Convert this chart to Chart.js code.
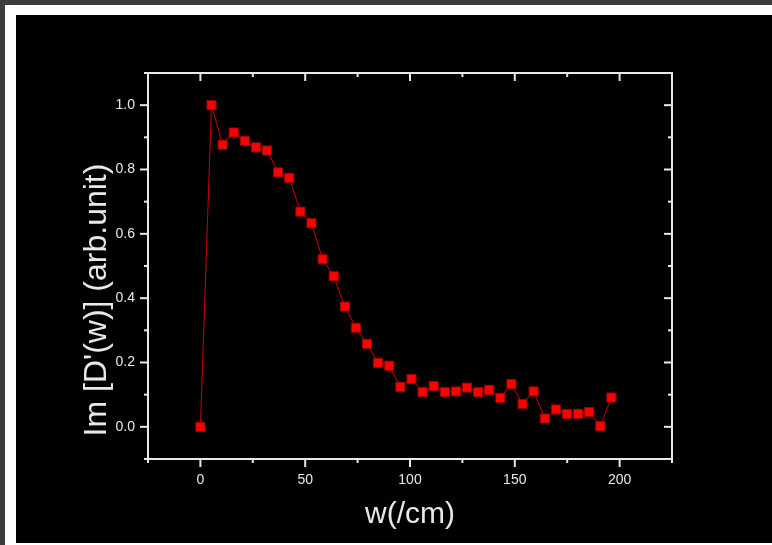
<!DOCTYPE html>
<html>
<head>
<meta charset="utf-8">
<script src="https://cdn.jsdelivr.net/npm/chart.js@4.4.1/dist/chart.umd.min.js"></script>
<style>
  html, body { margin: 0; padding: 0; background: #3c3c3c; }
  #marco { position: absolute; left: 5px; top: 5px; width: 767px; height: 540px; background: #ffffff; }
  #lienzo { position: absolute; left: 16px; top: 15px; width: 756px; height: 528px; background: #000000; }
</style>
</head>
<body>
<div id="marco"></div>
<div id="lienzo"><canvas id="grafica" width="756" height="528"></canvas></div>
<script>
// frecuencia w (1/cm) y parte imaginaria de D'(w), unidades arbitrarias
const frecuencias = [0, 5.3, 10.6, 15.9, 21.2, 26.5, 31.8, 37.1, 42.4, 47.7,
  53.0, 58.3, 63.6, 68.9, 74.2, 79.5, 84.8, 90.1, 95.4, 100.7,
  106.0, 111.3, 116.6, 121.9, 127.2, 132.5, 137.8, 143.1, 148.4, 153.7,
  159.0, 164.3, 169.6, 174.9, 180.2, 185.5, 190.8, 196.1];
const intensidad = [0.0, 1.0, 0.877, 0.915, 0.889, 0.869, 0.859, 0.791, 0.774, 0.669,
  0.633, 0.521, 0.468, 0.374, 0.308, 0.258, 0.199, 0.190, 0.124, 0.149,
  0.108, 0.127, 0.108, 0.110, 0.122, 0.108, 0.115, 0.090, 0.133, 0.071,
  0.110, 0.026, 0.054, 0.040, 0.040, 0.046, 0.002, 0.091];

const ticksX = [0, 50, 100, 150, 200];
const menoresX = [-25, 25, 75, 125, 175, 225];
const ticksY = [0.0, 0.2, 0.4, 0.6, 0.8, 1.0];
const menoresY = [-0.1, 0.1, 0.3, 0.5, 0.7, 0.9, 1.1];

const tituloX = 'w(/cm)';
const tituloY = "Im [D'(w)] (arb.unit)";

const fuente = "'Liberation Sans', Arial, sans-serif";
const blanco = '#e8e8e8';

// recuadro con marcas: abajo e izquierda hacia fuera, arriba y derecha hacia dentro
const marcoEjes = {
  id: 'marcoEjes',
  afterDraw(chart) {
    const { ctx, chartArea: a, scales: { x, y } } = chart;
    ctx.save();
    ctx.strokeStyle = blanco;
    ctx.lineWidth = 2;
    ctx.strokeRect(a.left, a.top, a.right - a.left, a.bottom - a.top);
    const linea = (x1, y1, x2, y2) => {
      ctx.beginPath(); ctx.moveTo(x1, y1); ctx.lineTo(x2, y2); ctx.stroke();
    };
    const marcasX = (valores, largo) => valores.forEach(v => {
      const px = x.getPixelForValue(v);
      linea(px, a.bottom, px, a.bottom + largo);
      linea(px, a.top, px, a.top + largo);
    });
    const marcasY = (valores, largo) => valores.forEach(v => {
      const py = y.getPixelForValue(v);
      linea(a.left, py, a.left - largo, py);
      linea(a.right, py, a.right - largo, py);
    });
    marcasX(ticksX, 8);
    marcasX(menoresX, 4);
    marcasY(ticksY, 8);
    marcasY(menoresY, 4);

    // título del eje vertical
    ctx.fillStyle = blanco;
    ctx.font = '32px ' + fuente;
    ctx.textAlign = 'center';
    ctx.textBaseline = 'middle';
    ctx.translate(a.left - 51, (a.top + a.bottom) / 2 + 34);
    ctx.rotate(-Math.PI / 2);
    ctx.fillText(tituloY, 0, 0);
    ctx.restore();
  }
};

const ctx = document.getElementById('grafica').getContext('2d');
new Chart(ctx, {
  type: 'scatter',
  data: {
    datasets: [{
      data: frecuencias.map((w, i) => ({ x: w, y: intensidad[i] })),
      showLine: true,
      borderColor: '#d00000',
      borderWidth: 1,
      pointStyle: 'rect',
      pointRadius: 6.4,
      pointBackgroundColor: '#ff0000',
      pointBorderColor: '#a00000',
      pointBorderWidth: 1,
      clip: false
    }]
  },
  options: {
    responsive: false,
    animation: false,
    layout: { padding: { left: 0, top: 58, right: 100, bottom: 0 } },
    plugins: { legend: { display: false }, tooltip: { enabled: false } },
    scales: {
      x: {
        type: 'linear',
        min: -25,
        max: 225,
        afterBuildTicks: s => { s.ticks = ticksX.map(v => ({ value: v })); },
        afterFit: s => { s.height = 84; },
        grid: { display: false, drawTicks: false },
        border: { display: false },
        ticks: { color: blanco, padding: 13, font: { family: fuente, size: 14 }, maxRotation: 0 },
        title: { display: true, text: tituloX, color: blanco, font: { family: fuente, size: 30 }, padding: { bottom: 10 } }
      },
      y: {
        type: 'linear',
        min: -0.1,
        max: 1.1,
        afterBuildTicks: s => { s.ticks = ticksY.map(v => ({ value: v })); },
        afterFit: s => { s.width = 132; },
        grid: { display: false, drawTicks: false },
        border: { display: false },
        ticks: { color: blanco, padding: 13, font: { family: fuente, size: 14 }, callback: v => v.toFixed(1) }
      }
    }
  },
  plugins: [marcoEjes]
});
</script>
</body>
</html>
